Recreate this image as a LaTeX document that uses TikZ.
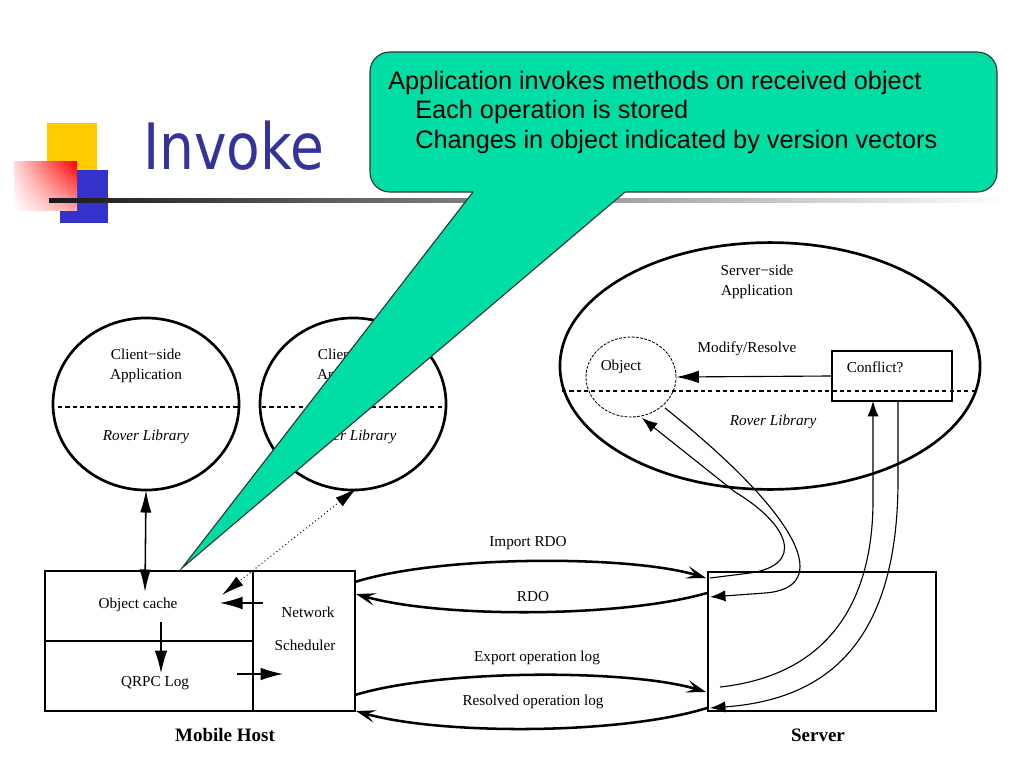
\documentclass[tikz,border=0pt]{standalone}
\usepackage{fontspec}
\setmainfont{Liberation Serif}
\newfontfamily\arialf{Liberation Sans}
\newfontfamily\titlef{DejaVu Sans}
\usetikzlibrary{shapes.geometric, arrows.meta, shadings}
\definecolor{calloutgreen}{RGB}{0,222,165}
\definecolor{titleblue}{RGB}{51,51,153}
\definecolor{logoyellow}{RGB}{255,204,0}
\definecolor{logoblue}{RGB}{51,51,204}
\tikzset{
  lbl/.style={font=\fontsize{10.8pt}{14pt}\selectfont, inner sep=0pt, align=center},
  itlbl/.style={font=\fontsize{10.8pt}{14pt}\selectfont\itshape, inner sep=0pt},
  boldlbl/.style={font=\fontsize{13.5pt}{16pt}\selectfont\bfseries, inner sep=0pt},
  calltext/.style={font=\arialf\fontsize{18pt}{21pt}\selectfont, inner sep=0pt, anchor=base west},
  frame/.style={draw, line width=1.9pt, inner sep=0pt, outer sep=0pt},
  divider/.style={dash pattern=on 3pt off 2.2pt, line width=1.1pt},
  thinline/.style={line width=0.8pt},
  bigtip/.style={-{Latex[length=16pt,width=9pt]}},
  dbltip/.style={{Latex[length=16pt,width=8pt]}-{Latex[length=16pt,width=8pt]}},
  smalltip/.style={-{Latex[length=11pt,width=8pt]}},
  arcline/.style={line width=1.8pt, -{Stealth[length=14pt,width=9pt,inset=6pt]}},
}
\begin{document}
\begin{tikzpicture}[x=0.025cm, y=-0.025cm]
\useasboundingbox (0,0) rectangle (1024,768);
\fill[white] (0,0) rectangle (1024,768);

% ---------- logo and title ----------
\fill[logoyellow] (47,123) rectangle (97,170);
\fill[logoblue] (60,170) rectangle (108,223);
\shade[upper right=red, upper left=red!15, lower right=red!35, lower left=white] (14,162) rectangle (77,210);
\shade[left color=black!90, right color=white] (49,198) rectangle (1010,202);
\node[anchor=base west, text=titleblue, font=\titlef\fontsize{45.5pt}{50pt}\selectfont, inner sep=0pt] (title) at (143,170) {\scalebox{0.86}[1]{Invoke}};

% ---------- client side ellipses ----------
\node[frame, ellipse, minimum width=4.65cm, minimum height=4.3cm] (cl1) at (146,404) {};
\node[lbl] (cl1t) at (146,366) {Client−side\\Application};
\node[itlbl] (cl1r) at (146,437) {Rover Library};
\draw[divider] (58,407) -- (238,407);

\node[frame, ellipse, minimum width=4.65cm, minimum height=4.3cm] (cl2) at (353,404) {};
\node[lbl] (cl2t) at (353,366) {Client−side\\Application};
\node[itlbl] (cl2r) at (353,437) {Rover Library};
\draw[divider] (262,407) -- (445,407);

% ---------- server side ellipse ----------
\node[frame, ellipse, minimum width=10.5cm, minimum height=6.17cm] (sv) at (770,366) {};
\node[lbl] (svt) at (757,282) {Server−side\\Application};
\node[itlbl] (svr) at (773,422) {Rover Library};
\node[draw, ellipse, dash pattern=on 2pt off 1pt, line width=0.6pt, minimum width=2.25cm, minimum height=2cm, inner sep=0pt] (obj) at (631,377) {};
\node[lbl] (objt) at (621,367) {Object};
\node[draw, line width=1pt, minimum width=3cm, minimum height=1.25cm, inner sep=0pt] (cf) at (892,376) {};
\node[lbl] (cft) at (875,367) {Conflict?};
\node[lbl] (mr) at (747,349) {Modify/Resolve};
\draw[divider] (562,391) -- (976,391);
\draw[thinline, bigtip] (cf.west) -- (obj.east);

% ---------- mobile host ----------
\node[frame, minimum width=7.75cm, minimum height=3.5cm] (mh) at (200,641) {};
\draw[line width=1pt] (253,571) -- (253,711);
\draw[line width=1pt] (45,641) -- (253,641);
\node[lbl] (oc) at (138,605) {Object cache};
\node[lbl] (ql) at (155,683) {QRPC Log};
\node[lbl] (nw) at (308,612) {Network};
\node[lbl] (ns) at (305,645) {Scheduler};
\node[boldlbl] (mhl) at (225,735) {Mobile Host};

\coordinate (ocTop) at (145,592);
\coordinate (ocTopR) at (222,595);
\coordinate (cl2B) at (357,488);
\coordinate (ocOut) at (161,622);
\coordinate (qlIn) at (161,673);
\coordinate (nwOut) at (263,603);
\coordinate (ocIn) at (220,603);
\coordinate (qlOut) at (237,674);
\coordinate (nwIn) at (283,674);
\draw[line width=1.1pt, dbltip] (cl1.south) -- (ocTop);
\draw[line width=0.7pt, dotted, dbltip] (cl2B) -- (ocTopR);
\draw[thinline, bigtip] (ocOut) -- (qlIn);
\draw[thinline, bigtip] (nwOut) -- (ocIn);
\draw[thinline, bigtip] (qlOut) -- (nwIn);

% ---------- server box ----------
\node[frame, minimum width=5.7cm, minimum height=3.475cm] (sb) at (822,641.5) {};
\node[boldlbl] (sbl) at (818,735) {Server};

% ---------- arcs between mobile host and server ----------
\coordinate (mh1) at (355,582);
\coordinate (sb1) at (706,578);
\coordinate (sb2) at (707,593);
\coordinate (mh2) at (356,594);
\coordinate (mh3) at (355,695);
\coordinate (sb3) at (706,692);
\coordinate (sb4) at (707,708);
\coordinate (mh4) at (356,711);
\draw[arcline] (mh1) .. controls (440,555) and (630,555) .. (sb1);
\draw[arcline] (sb2) .. controls (620,618) and (440,618) .. (mh2);
\draw[arcline] (mh3) .. controls (440,669) and (630,669) .. (sb3);
\draw[arcline] (sb4) .. controls (620,735) and (440,735) .. (mh4);
\node[lbl] (l1) at (528,543) {Import RDO};
\node[lbl] (l2) at (533,597) {RDO};
\node[lbl] (l3) at (537,658) {Export operation log};
\node[lbl] (l4) at (533,702) {Resolved operation log};

% ---------- curves inside server ----------
\coordinate (objOut) at (665,408);
\coordinate (objIn) at (642,418);
\coordinate (rdoIn) at (710,578);
\coordinate (rdoOut) at (710,597);
\coordinate (expIn) at (720,687);
\coordinate (resOut) at (710,708);
\coordinate (cfIn) at (873,401);
\coordinate (cfOut) at (898,401);
\draw[thinline, smalltip] (objOut) .. controls (805,520) and (832,588) .. (765,593) -- (rdoOut);
\draw[thinline, smalltip] (rdoIn) -- (750,573) .. controls (805,565) and (790,525) .. (735,492) -- (objIn);
\draw[thinline, smalltip] (expIn) .. controls (830,675) and (873,600) .. (873,500) -- (cfIn);
\draw[thinline, smalltip] (cfOut) -- (898,480) .. controls (898,650) and (820,700) .. (resOut);

% ---------- callout ----------
\draw[fill=calloutgreen, draw=black!80, line width=0.8pt, rounded corners=14pt] (370,52) rectangle (997,192);
\fill[calloutgreen] (182,568) -- (476.1,188) -- (629.7,188) -- cycle;
\draw[draw=black!80, line width=0.8pt] (473,192) -- (182,568) -- (625,192);
\node[calltext] (c1) at (388,90) {Application invokes methods on received object};
\node[calltext] (c2) at (415,119) {Each operation is stored};
\node[calltext] (c3) at (415,149) {Changes in object indicated by version vectors};
\end{tikzpicture}
\end{document}
